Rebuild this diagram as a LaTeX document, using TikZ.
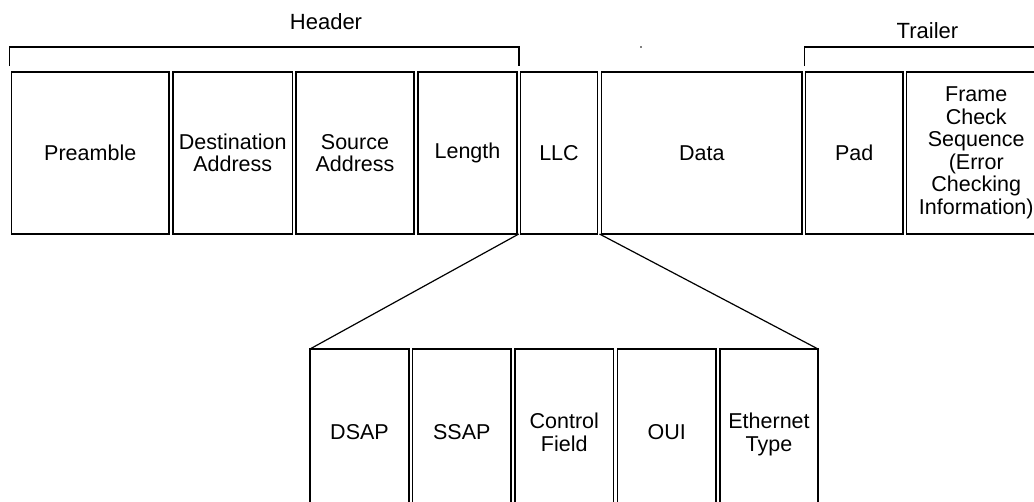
\documentclass[tikz,border=0pt]{standalone}
\usepackage{fontspec}
\setmainfont{Liberation Sans}
\usetikzlibrary{calc}
\begin{document}
\begin{tikzpicture}[x=1pt,y=1pt,
  line width=1.3pt,
  fieldbox/.style={draw=black, inner sep=0pt, outer sep=0pt, align=center,
    font=\fontsize{21.5}{22.5}\selectfont},
  topbox/.style={fieldbox, minimum height=162pt},
  lowbox/.style={fieldbox, minimum height=166pt, text depth=0pt},
  bracketline/.style={draw=black, line width=1.3pt},
  title/.style={font=\fontsize{22}{24}\selectfont, inner sep=0pt}]
\useasboundingbox (0,0) rectangle (1034,-501);
\clip (0,0) rectangle (1034,-501);
% top frame fields
\node[topbox, minimum width=157.5pt] (pre)  at (90.25,-153)  {Preamble};
\node[topbox, minimum width=119.5pt] (dst)  at (232.75,-153) {Destination\\Address};
\node[topbox, minimum width=118pt]   (src)  at (355,-153)    {Source\\Address};
\node[topbox, minimum width=99pt]    (len)  at (467.5,-153)  {Length};
\node[topbox, minimum width=77pt]    (llc)  at (559,-153)    {LLC};
\node[topbox, minimum width=200.5pt] (data) at (701.75,-153) {Data};
\node[topbox, minimum width=97.5pt]  (pad)  at (854.25,-153) {Pad};
\node[topbox, minimum width=139.5pt] (fcs)  at (976.25,-153) {Frame\\Check\\Sequence\\(Error\\Checking\\Information)};
% LLC sub-fields
\node[lowbox, minimum width=99pt]   (dsap) at (359.5,-432)  {DSAP};
\node[lowbox, minimum width=98.5pt] (ssap) at (461.75,-432) {SSAP};
\node[lowbox, minimum width=98.5pt] (ctrl) at (564.25,-432) {Control\\Field};
\node[lowbox, minimum width=98.5pt] (oui)  at (666.75,-432) {OUI};
\node[lowbox, minimum width=98pt]   (eth)  at (769,-432)    {Ethernet\\Type};
% expansion lines
\coordinate (lA) at ($(len.south east)!0.5!(llc.south west)$);
\coordinate (lB) at ($(llc.south east)!0.5!(data.south west)$);
\draw[line width=1.2pt] (lA) -- (dsap.north west);
\draw[line width=1.2pt] (lB) -- (eth.north east);
% header bracket
\coordinate (hL) at (9.5,-66);
\coordinate (hR) at (519,-66);
\draw[bracketline] (hL) |- (hR |- 0,-47) -- (hR);
\node[title] (header) at (326,-22) {Header};
% trailer bracket
\coordinate (tL) at (804.5,-66);
\coordinate (tR) at (1040,-47);
\draw[bracketline] (tL) |- (tR);
\node[title] (trailer) at (927.5,-31) {Trailer};
% stray dot
\fill (641,-47) circle (0.9pt);
\end{tikzpicture}
\end{document}
